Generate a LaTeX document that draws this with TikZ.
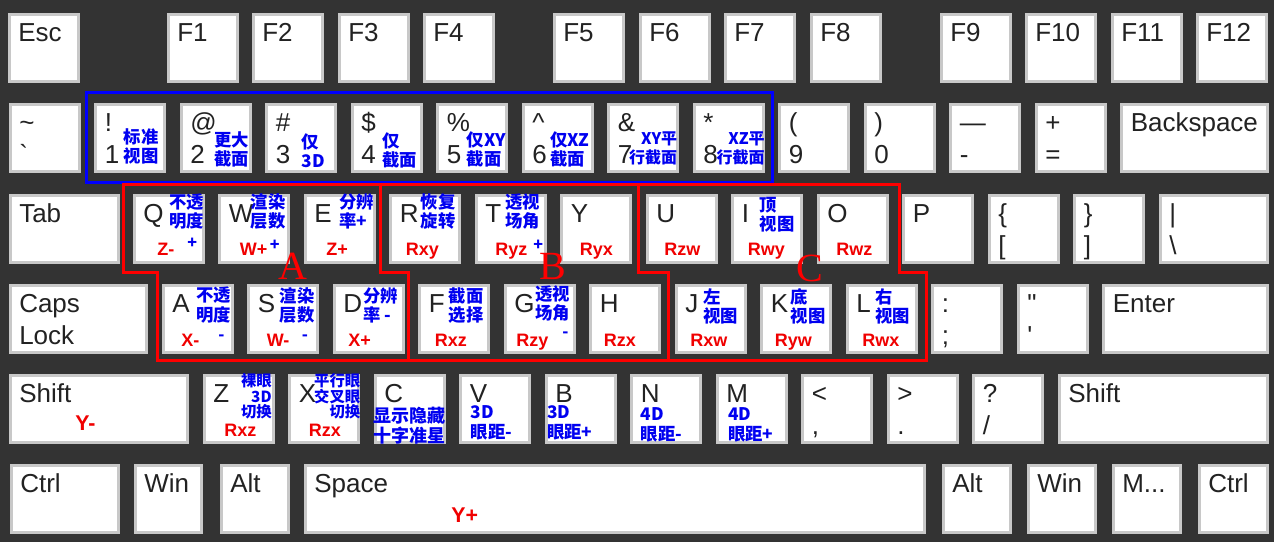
\documentclass[tikz,border=0pt]{standalone}
\usepackage{fontspec}
\setmainfont{Liberation Sans}
\newfontfamily\cjkfont{Noto Sans CJK SC}
\newfontfamily\tagfont{Liberation Serif}
\usetikzlibrary{positioning,fit}
\definecolor{boardgray}{HTML}{333333}
\definecolor{keyrim}{HTML}{C8C8C8}
\definecolor{keyink}{HTML}{222222}
\definecolor{hintblue}{HTML}{0000F0}
\definecolor{hintred}{HTML}{F00000}
\definecolor{zonered}{HTML}{FF0000}
\definecolor{rowblue}{HTML}{0000FF}

\begin{document}
\begin{tikzpicture}[
    x=0.75pt, y=-0.75pt,
    keycap/.style={draw=keyrim, fill=white, line width=2.25pt, anchor=north west, inner sep=0pt, minimum height=50.25pt},
    keytxt/.style={anchor=base west, inner sep=0pt, text=keyink, font=\fontsize{19.5}{19.5}\selectfont},
    hint/.style={anchor=north west, inner sep=0pt, text=hintblue, align=left, font=\cjkfont\bfseries\fontsize{13}{14.5}\selectfont},
    hintsm/.style={hint, font=\cjkfont\bfseries\fontsize{11.5}{11.5}\selectfont},
    sign/.style={anchor=base west, inner sep=0pt, text=hintblue, font=\cjkfont\bfseries\fontsize{12}{12}\selectfont},
    axislbl/.style={anchor=base west, inner sep=0pt, text=hintred, font=\bfseries\fontsize{13.5}{13.5}\selectfont},
    zone/.style={draw=zonered, line width=2.25pt},
    zonetag/.style={text=zonered, inner sep=0pt, font=\tagfont\fontsize{30}{30}\selectfont}
]
\path[use as bounding box, fill=boardgray] (0,0) rectangle (1274,542);

% function row
\foreach \nm/\x/\w/\up in {esc/6/72/Esc, f1/165/72/F1, f2/250/72/F2, f3/336/72/F3, f4/421/72/F4,
    f5/551/72/F5, f6/637/72/F6, f7/722/72/F7, f8/808/72/F8,
    f9/938/72/F9, f10/1023/72/F10, f11/1109/72/F11, f12/1194/72/F12}{
  \node[keycap, minimum width={(\w-3)*0.75pt}] (\nm) at (\x+1.5,13.5) {};
  \node[keytxt] (\nm-a) at ([shift={(10.5,28.5)}]\nm.north west) {\up};
}

% number row
\foreach \nm/\x/\w/\up/\dn in {tilde/7/72/{\textasciitilde}/{\textasciigrave}, n1/92.5/72/!/1, n2/178/72/@/2,
    n3/263.5/72/{\#}/3, n4/349/72/{\$}/4, n5/434.5/72/{\%}/5, n6/520/72/{\textasciicircum}/6,
    n7/605.5/72/{\&}/7, n8/691/72/*/8, n9/776.5/72/{(}/9, n0/862/72/{)}/0,
    minus/947.5/72/—/-, equal/1033/72/+/=, bksp/1118.5/148.5/Backspace/{}}{
  \node[keycap, minimum width={(\w-3)*0.75pt}] (\nm) at (\x+1.5,102.5) {};
  \node[keytxt] (\nm-a) at ([shift={(10.5,28.5)}]\nm.north west) {\up};
  \node[keytxt] (\nm-b) at ([shift={(10.5,60.5)}]\nm.north west) {\dn};
}

% top letter row
\foreach \nm/\x/\w/\up/\dn in {tab/7/111/Tab/{}, kq/131/72/Q/{}, kw/216.5/72/W/{}, ke/302/72/E/{},
    kr/387.5/72/R/{}, kt/473/72/T/{}, ky/558.5/72/Y/{}, ku/644/72/U/{}, ki/729.5/72/I/{},
    ko/815/72/O/{}, kp/900.5/72/P/{}, lbrace/986/72/{\{}/{[}, rbrace/1071.5/72/{\}}/{]},
    bslash/1157/110/{\textbar}/{\textbackslash}}{
  \node[keycap, minimum width={(\w-3)*0.75pt}] (\nm) at (\x+1.5,193.5) {};
  \node[keytxt] (\nm-a) at ([shift={(10.5,28.5)}]\nm.north west) {\up};
  \node[keytxt] (\nm-b) at ([shift={(10.5,60.5)}]\nm.north west) {\dn};
}

% home row
\foreach \nm/\x/\w/\up/\dn in {caps/7/139/Caps/Lock, ka/160/72/A/{}, ks/245.5/72/S/{}, kd/331/72/D/{},
    kf/416.5/72/F/{}, kg/502/72/G/{}, kh/587.5/72/H/{}, kj/673/72/J/{}, kk/758.5/72/K/{},
    kl/844/72/L/{}, semi/929.5/72/:/;, quote/1015/72/{\textquotedbl}/{\textquotesingle},
    enter/1100.5/166.5/Enter/{}}{
  \node[keycap, minimum width={(\w-3)*0.75pt}] (\nm) at (\x+1.5,283.5) {};
  \node[keytxt] (\nm-a) at ([shift={(10.5,28.5)}]\nm.north west) {\up};
  \node[keytxt] (\nm-b) at ([shift={(10.5,60.5)}]\nm.north west) {\dn};
}

% bottom letter row
\foreach \nm/\x/\w/\up/\dn in {shiftl/7/180/Shift/{}, kz/201/72/Z/{}, kx/286.5/72/X/{}, kc/372/72/C/{},
    kv/457.5/72/V/{}, kb/543/72/B/{}, kn/628.5/72/N/{}, km/714/72/M/{},
    comma/799.5/72/{<}/{,}, period/885/72/{>}/{.}, slash/970.5/72/?/{/}, shiftr/1056/211/Shift/{}}{
  \node[keycap, minimum width={(\w-3)*0.75pt}] (\nm) at (\x+1.5,373.5) {};
  \node[keytxt] (\nm-a) at ([shift={(10.5,28.5)}]\nm.north west) {\up};
  \node[keytxt] (\nm-b) at ([shift={(10.5,60.5)}]\nm.north west) {\dn};
}

% space row
\foreach \nm/\x/\w/\up in {ctrll/8/110/Ctrl, winl/132/69/Win, altl/218/70/Alt, space/302/622/Space,
    altr/940/70/Alt, winr/1025/70/Win, menu/1110/70/{M{.}{.}{.}}, ctrlr/1196/71/Ctrl}{
  \node[keycap, minimum width={(\w-3)*0.75pt}] (\nm) at (\x+1.5,463.5) {};
  \node[keytxt] (\nm-a) at ([shift={(10.5,28.5)}]\nm.north west) {\up};
}

% view shortcuts on the number row
\node[hint] (n1-h) at ([shift={(29.5,25.5)}]n1.north west) {标准\\视图};
\node[hint] (n2-h) at ([shift={(34.5,28.5)}]n2.north west) {更大\\截面};
\node[hint] (n3-h) at ([shift={(36.5,30.5)}]n3.north west) {仅\\3D};
\node[hint] (n4-h) at ([shift={(31.5,29.5)}]n4.north west) {仅\\截面};
\node[hint] (n5-h) at ([shift={(30.5,28.5)}]n5.north west) {仅XY\\截面};
\node[hint] (n6-h) at ([shift={(28.5,28.5)}]n6.north west) {仅XZ\\截面};
\node[hint, anchor=north east, align=right, font=\cjkfont\bfseries\fontsize{12}{14.5}\selectfont] (n7-h) at ([shift={(-1.5,28.5)}]n7.north east) {XY平\\行截面};
\node[hint, anchor=north east, align=right, font=\cjkfont\bfseries\fontsize{12}{14.5}\selectfont] (n8-h) at ([shift={(0.5,28.5)}]n8.north east) {XZ平\\行截面};
\node[fit=(n1)(n8), draw=rowblue, line width=2.25pt, inner xsep=6pt, inner ysep=7.5pt] (numzone) {};

% top letter row hints
\node[hint] (kq-h) at ([shift={(36.5,0)}]kq.north west) {不透\\明度};
\node[hint] (kw-h) at ([shift={(32.5,0)}]kw.north west) {渲染\\层数};
\node[hint] (ke-h) at ([shift={(35.5,0)}]ke.north west) {分辨\\率+};
\node[hint] (kr-h) at ([shift={(31.5,0)}]kr.north west) {恢复\\旋转};
\node[hint] (kt-h) at ([shift={(30.5,0)}]kt.north west) {透视\\场角};
\node[hint] (ki-h) at ([shift={(28.5,3.5)}]ki.north west) {顶\\视图};
\node[sign] (kq-s) at ([shift={(54.5,54.5)}]kq.north west) {+};
\node[sign] (kw-s) at ([shift={(51.5,56.5)}]kw.north west) {+};
\node[sign] (kt-s) at ([shift={(58.5,56.5)}]kt.north west) {+};
\node[axislbl] (kq-r) at ([shift={(24.5,61.5)}]kq.north west) {Z-};
\node[axislbl] (kw-r) at ([shift={(21.5,61.5)}]kw.north west) {W+};
\node[axislbl] (ke-r) at ([shift={(22.5,61.5)}]ke.north west) {Z+};
\node[axislbl] (kr-r) at ([shift={(16.5,61.5)}]kr.north west) {Rxy};
\node[axislbl] (kt-r) at ([shift={(20.5,61.5)}]kt.north west) {Ryz};
\node[axislbl] (ky-r) at ([shift={(19.5,61.5)}]ky.north west) {Ryx};
\node[axislbl] (ku-r) at ([shift={(18.5,61.5)}]ku.north west) {Rzw};
\node[axislbl] (ki-r) at ([shift={(16.5,61.5)}]ki.north west) {Rwy};
\node[axislbl] (ko-r) at ([shift={(19.5,61.5)}]ko.north west) {Rwz};

% home row hints
\node[hint] (ka-h) at ([shift={(34.5,3.5)}]ka.north west) {不透\\明度};
\node[hint] (ks-h) at ([shift={(32.5,3.5)}]ks.north west) {渲染\\层数};
\node[hint] (kd-h) at ([shift={(30.5,3.5)}]kd.north west) {分辨\\率 -};
\node[hint] (kf-h) at ([shift={(30.5,3.5)}]kf.north west) {截面\\选择};
\node[hint] (kg-h) at ([shift={(31.5,1.5)}]kg.north west) {透视\\场角};
\node[hint] (kj-h) at ([shift={(28.5,4.5)}]kj.north west) {左\\视图};
\node[hint] (kk-h) at ([shift={(30.5,4.5)}]kk.north west) {底\\视图};
\node[hint] (kl-h) at ([shift={(29.5,4.5)}]kl.north west) {右\\视图};
\node[sign] (ka-s) at ([shift={(56.5,56.5)}]ka.north west) {-};
\node[sign] (ks-s) at ([shift={(54.5,56.5)}]ks.north west) {-};
\node[sign] (kg-s) at ([shift={(58.5,53.5)}]kg.north west) {-};
\node[axislbl] (ka-r) at ([shift={(19.5,62.5)}]ka.north west) {X-};
\node[axislbl] (ks-r) at ([shift={(19.5,62.5)}]ks.north west) {W-};
\node[axislbl] (kd-r) at ([shift={(15.5,62.5)}]kd.north west) {X+};
\node[axislbl] (kf-r) at ([shift={(16.5,62.5)}]kf.north west) {Rxz};
\node[axislbl] (kg-r) at ([shift={(12.5,62.5)}]kg.north west) {Rzy};
\node[axislbl] (kh-r) at ([shift={(14.5,62.5)}]kh.north west) {Rzx};
\node[axislbl] (kj-r) at ([shift={(15.5,62.5)}]kj.north west) {Rxw};
\node[axislbl] (kk-r) at ([shift={(14.5,62.5)}]kk.north west) {Ryw};
\node[axislbl] (kl-r) at ([shift={(16.5,62.5)}]kl.north west) {Rwx};

% bottom rows hints
\node[hintsm, anchor=north east, align=right] (kz-h) at ([shift={(-2.5,0)}]kz.north east) {裸眼\\3D\\切换};
\node[hintsm, anchor=north east, align=right] (kx-h) at ([shift={(0.5,0)}]kx.north east) {平行眼\\交叉眼\\切换};
\node[hint, anchor=north, align=center, font=\cjkfont\bfseries\fontsize{13.5}{15}\selectfont] (kc-h) at ([shift={(0,33.5)}]kc.north) {显示隐藏\\十字准星};
\node[hint] (kv-h) at ([shift={(11.5,32)}]kv.north west) {3D\\眼距-};
\node[hint] (kb-h) at ([shift={(2.5,32)}]kb.north west) {3D\\眼距+};
\node[hint] (kn-h) at ([shift={(10.5,34)}]kn.north west) {4D\\眼距-};
\node[hint] (km-h) at ([shift={(12.5,34)}]km.north west) {4D\\眼距+};
\node[axislbl] (kz-r) at ([shift={(21.5,62.5)}]kz.north west) {Rxz};
\node[axislbl] (kx-r) at ([shift={(20.5,62.5)}]kx.north west) {Rzx};
\node[axislbl, font=\bfseries\fontsize{16}{16}\selectfont] (shiftl-r) at ([shift={(66.5,56.5)}]shiftl.north west) {Y-};
\node[axislbl, font=\bfseries\fontsize{16}{16}\selectfont] (space-r) at ([shift={(147.5,58.5)}]space.north west) {Y+};

% rotation zones
\draw[zone] (123,184) -- (899,184) -- (899,272) -- (926,272) -- (926,360) -- (157,360) -- (157,272) -- (123,272) -- cycle;
\draw[zone] (380,184) |- (408,272) -- (408,360);
\draw[zone] (638,184) |- (668,272) -- (668,360);
\node[zonetag] (tagA) at (293,266) {A};
\node[zonetag] (tagB) at (553,266) {B};
\node[zonetag] (tagC) at (810,268) {C};
\end{tikzpicture}
\end{document}
